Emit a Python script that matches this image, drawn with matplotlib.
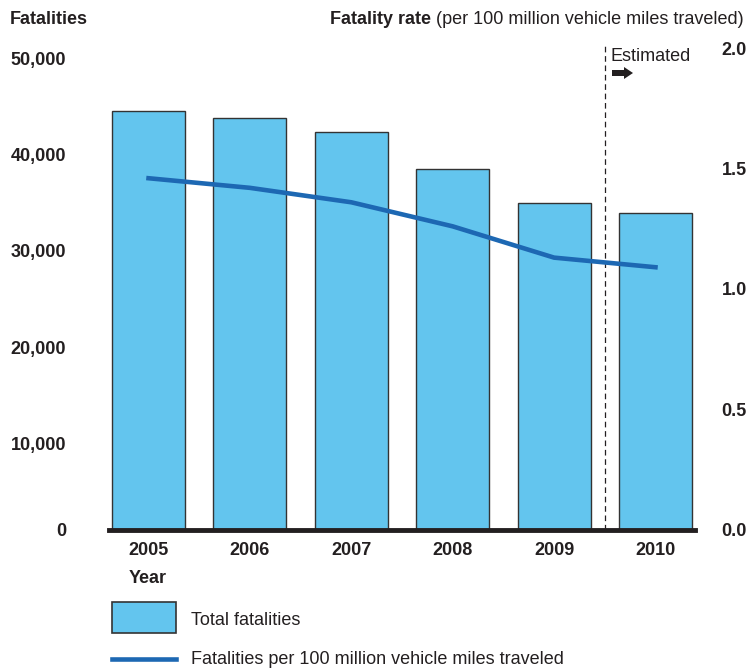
import matplotlib
matplotlib.use("Agg")
import matplotlib.pyplot as plt
import matplotlib.patches as mpatches
from matplotlib.lines import Line2D
from matplotlib.transforms import ScaledTranslation, IdentityTransform
import numpy as np

plt.rcParams['font.family'] = ['Liberation Sans', 'DejaVu Sans']

years = ['2005', '2006', '2007', '2008', '2009', '2010']
fatalities = [43510, 42708, 41259, 37423, 33883, 32885]
rate = [1.46, 1.42, 1.36, 1.26, 1.13, 1.09]
left_ticks = [0, 10000, 20000, 30000, 40000, 50000]
right_ticks = [0.0, 0.5, 1.0, 1.5, 2.0]

txt = '#231F20'
bar_col = '#63C5EE'
line_col = '#1D68B3'

W, H = 750, 668
fig = plt.figure(figsize=(7.5, 6.68), dpi=100)
ax = fig.add_axes([109 / W, 138.5 / H, 586 / W, 481.2 / H])
ax2 = ax.twinx()

x = np.arange(len(years))
ax.bar(x, fatalities, width=0.72, color=bar_col, edgecolor='#333333', linewidth=1.0, zorder=2)
ax.set_xlim(-0.39, 5.39)
ax.set_ylim(0, 50000)
ax.set_yticks(left_ticks)
ax.set_yticklabels(['{:,}'.format(v) for v in left_ticks], fontsize=13, fontweight='bold', color=txt)
ax.set_xticks(x)
ax.set_xticklabels(years, fontsize=13, fontweight='bold', color=txt)
ax.tick_params(axis='y', length=0, pad=31)
ax.tick_params(axis='x', length=0, pad=9)
for s in ['top', 'right', 'left']:
    ax.spines[s].set_visible(False)
ax.spines['bottom'].set_linewidth(3.5)
ax.spines['bottom'].set_color(txt)
ax.spines['bottom'].set_zorder(5)

# the reference draws the non-zero left labels a bit lower than the grid
off = ScaledTranslation(0, -10 / 100, fig.dpi_scale_trans)
for lab in ax.get_yticklabels()[1:]:
    lab.set_transform(lab.get_transform() + off)

ax2.plot(x, rate, color=line_col, linewidth=3.3, solid_joinstyle='round', zorder=3)
ax2.set_ylim(0, 2.0)
ax2.set_yticks(right_ticks)
ax2.set_yticklabels(['{:.1f}'.format(v) for v in right_ticks], fontsize=13, fontweight='bold', color=txt)
ax2.tick_params(axis='y', length=0, pad=19)
for s in ['top', 'right', 'left', 'bottom']:
    ax2.spines[s].set_visible(False)

# estimated divider
ax2.axvline(4.5, ymin=0, ymax=1.01, color=txt, linewidth=0.9, linestyle=(0, (4.5, 3)), clip_on=False)
fig.text(610 / W, 1 - 61 / H, 'Estimated', fontsize=13, color=txt, ha='left', va='baseline')
fig.add_artist(mpatches.FancyArrow(612, H - 73, 12, 0, width=6, head_width=12, head_length=9,
                                   transform=IdentityTransform(), color=txt, linewidth=0))

# headers
fig.text(10 / W, 1 - 24 / H, 'Fatalities', fontsize=13, fontweight='bold', color=txt, ha='left', va='baseline')
t2 = fig.text(744 / W, 1 - 24 / H, ' (per 100 million vehicle miles traveled)', fontsize=13, color=txt,
              ha='right', va='baseline')
fig.canvas.draw()
bb = t2.get_window_extent(fig.canvas.get_renderer())
fig.text(bb.x0 / W, 1 - 24 / H, 'Fatality rate', fontsize=13, fontweight='bold', color=txt,
         ha='right', va='baseline')

fig.text(148 / W, 1 - 583 / H, 'Year', fontsize=13, fontweight='bold', color=txt, ha='center', va='baseline')

# legend
fig.add_artist(mpatches.Rectangle((112 / W, 1 - 633 / H), 64 / W, 31 / H, transform=fig.transFigure,
                                  facecolor=bar_col, edgecolor='#333333', linewidth=1.2))
fig.text(191 / W, 1 - 625 / H, 'Total fatalities', fontsize=13, color=txt, ha='left', va='baseline')
fig.add_artist(Line2D([112 / W, 176 / W], [1 - 659 / H, 1 - 659 / H], transform=fig.transFigure,
                      color=line_col, linewidth=3.3))
fig.text(191 / W, 1 - 664 / H, 'Fatalities per 100 million vehicle miles traveled', fontsize=13,
         color=txt, ha='left', va='baseline')

fig.savefig('out.png', dpi=100)
